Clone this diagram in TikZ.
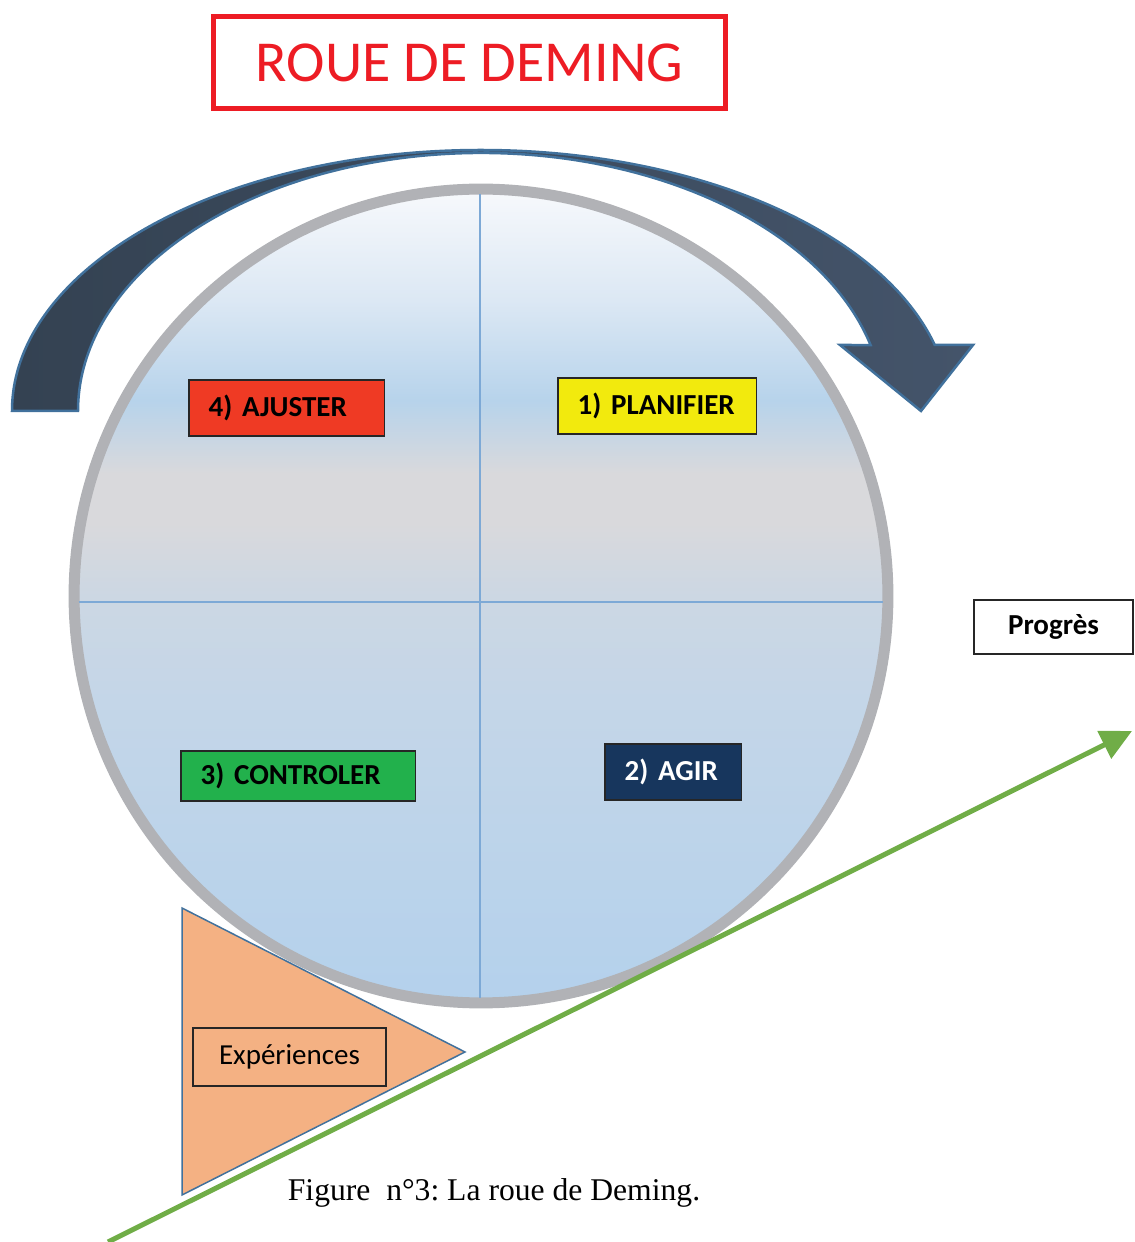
\documentclass[tikz,border=0pt]{standalone}
\usepackage{fontspec}
\setmainfont{Carlito}
\newfontfamily\capfont{Liberation Serif}
\usetikzlibrary{arrows.meta}
\definecolor{titlered}{HTML}{ED1C24}
\definecolor{ringgray}{HTML}{B1B2B6}
\definecolor{crossblue}{HTML}{7DA9D6}
\definecolor{edgeblue}{HTML}{41719C}
\definecolor{turnleft}{HTML}{344252}
\definecolor{turnright}{HTML}{44546A}
\definecolor{adjred}{HTML}{EF3A24}
\definecolor{planyellow}{HTML}{F2EA0D}
\definecolor{checkgreen}{HTML}{22B14C}
\definecolor{actnavy}{HTML}{17365D}
\definecolor{expfill}{HTML}{F4B183}
\definecolor{progreen}{HTML}{70AD47}
\definecolor{wheelA}{HTML}{B4D1EC}
\definecolor{wheelB}{HTML}{C4D6E8}
\definecolor{wheelC}{HTML}{CCD7E3}
\definecolor{wheelD}{HTML}{D9D9DC}
\definecolor{wheelE}{HTML}{B7D3EB}
\definecolor{wheelF}{HTML}{DCE8F4}
\definecolor{wheelG}{HTML}{F7F9FC}
\pgfdeclareverticalshading{wheelshade}{100bp}{color(0bp)=(wheelA); color(25bp)=(wheelA); color(43.6bp)=(wheelB); color(50bp)=(wheelC); color(54.5bp)=(wheelD); color(57.5bp)=(wheelD); color(62bp)=(wheelE); color(68.2bp)=(wheelF); color(75bp)=(wheelG); color(100bp)=(wheelG)}
\tikzset{
	phase/.style={
		draw=black!85,
		line width=0.03cm,
		anchor=west,
		inner xsep=0.4cm,
		inner ysep=0pt,
		align=left,
		minimum height=1.12cm,
		font=\fontsize{16.5}{19}\selectfont\bfseries
	},
	plainbox/.style={
		draw=black!85,
		line width=0.03cm,
		inner sep=0pt,
		font=\fontsize{16.5}{19}\selectfont
	}
}
\begin{document}
\begin{tikzpicture}[
	x=0.02cm,
	y=0.02cm,
	turn/.style={left color=turnleft, right color=turnright, draw=edgeblue, line width=0.05cm},
	cross/.style={crossblue, line width=0.04cm, shorten <=0.2cm, shorten >=0.2cm}
]
\useasboundingbox (0,0) rectangle (1134,1242);
\node[draw=titlered, line width=0.1cm, text=titlered, minimum width=10.24cm, minimum height=1.84cm,
	font=\fontsize{33}{40}\selectfont] (title) at (469.5,1179.5) {ROUE DE DEMING};
\path[turn] (12,831) arc[start angle=180, end angle=14.65, x radius=469, y radius=261]
	-- (973,897) -- (921,831) -- (840,897) -- ([shift={(481,831)}]14.82:403 and 258)
	arc[start angle=14.82, end angle=180, x radius=403, y radius=258] -- cycle;
\node[circle, draw=ringgray, line width=0.22cm, shading=wheelshade, minimum size=16.28cm, inner sep=0pt] (wheel) at (481,646) {};
\draw[cross] ([xshift=-0.02cm]wheel.north) -- ([xshift=-0.02cm]wheel.south);
\draw[cross] ([yshift=-0.12cm]wheel.west) -- ([yshift=-0.12cm]wheel.east);
\node[phase, fill=adjred, text width=3.12cm] (adjust) at (188,834) {4) AJUSTER};
\node[phase, fill=planyellow, text width=3.18cm] (plan) at (557,836) {1) PLANIFIER};
\node[phase, fill=checkgreen, text width=3.9cm, minimum height=1cm] (check) at (180,466) {3) CONTROLER};
\node[phase, fill=actnavy, text=white, text width=1.94cm] (act) at (604,470) {2) AGIR};
\node[plainbox, font=\fontsize{16.5}{19}\selectfont\bfseries, minimum width=3.18cm, minimum height=1.08cm] (progress) at (1053.5,615) {Progrès};
\draw[fill=expfill, draw=edgeblue, line width=0.03cm] (182,334) -- (182,47) -- (465,190) -- cycle;
\node[plainbox, minimum width=3.86cm, minimum height=1.16cm] (experience) at (289.5,185) {Expériences};
\coordinate (slope start) at (108,0);
\coordinate (slope end) at (1132,511);
\draw[progreen, line width=0.1cm, -{Triangle[length=0.62cm, width=0.6cm]}] (slope start) -- (slope end);
\node[font=\capfont\fontsize{18}{22}\selectfont] (caption) at (494,49) {\frenchspacing Figure\ \ n°3: La roue de Deming.};
\end{tikzpicture}
\end{document}
